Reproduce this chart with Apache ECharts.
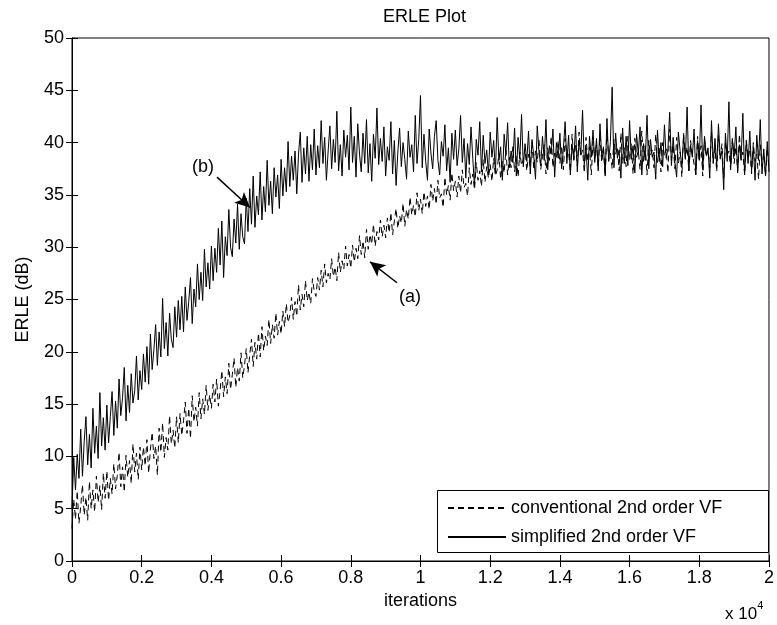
<!DOCTYPE html>
<html>
<head>
<meta charset="utf-8">
<script src="https://cdn.jsdelivr.net/npm/echarts@6/dist/echarts.min.js"></script>
<style>
  html, body { margin: 0; padding: 0; background: #fff; }
  #chart { width: 777px; height: 625px; }
</style>
</head>
<body>
<div id="chart"></div>
<script>
// iterations between samples (x axis is shown in units of 10^4)
const step = 50

const xTicks = ['0', '0.2', '0.4', '0.6', '0.8', '1', '1.2', '1.4', '1.6', '1.8', '2']

// (a) conventional 2nd order VF, dashed  (one row = 1000 iterations)
const conventional = [
  3.1, 5.9, 4.0, 6.7, 3.6, 5.2, 7.3, 4.4, 6.1, 3.9, 7.6, 5.0, 6.8, 4.7, 8.1, 5.6, 7.2, 4.9, 8.4, 6.0,
  8.6, 5.8, 7.9, 6.4, 9.3, 6.9, 8.2, 10.4, 7.1, 9.0, 6.6, 10.1, 8.0, 9.6, 7.4, 11.2, 8.5, 10.3, 7.8, 10.9,
  8.7, 10.9, 9.1, 11.6, 8.4, 10.7, 12.3, 9.8, 11.0, 8.2, 12.7, 10.4, 13.2, 9.9, 11.8, 10.6, 13.9, 11.2, 12.5, 10.8,
  13.8, 11.3, 14.1, 12.0, 13.4, 15.2, 12.2, 14.6, 11.7, 15.8, 13.3, 14.7, 12.9, 16.1, 13.6, 15.5, 14.0, 16.8, 14.4, 15.9,
  14.6, 16.9, 15.2, 17.4, 14.8, 16.3, 18.2, 15.7, 17.6, 16.0, 18.9, 16.4, 17.8, 19.4, 16.6, 18.5, 17.2, 19.9, 17.5, 18.7,
  20.3, 18.0, 19.7, 21.2, 18.6, 20.9, 19.3, 21.8, 19.5, 22.4, 20.1, 21.5, 20.6, 23.1, 20.8, 22.6, 21.3, 23.7, 21.6, 22.9,
  21.7, 23.9, 22.4, 24.6, 22.8, 23.5, 25.2, 23.1, 24.8, 23.4, 26.4, 24.0, 25.5, 24.3, 26.8, 24.9, 25.7, 24.6, 27.0, 25.8,
  25.3, 27.1, 25.9, 27.8, 26.2, 28.4, 26.6, 27.5, 26.9, 28.9, 27.2, 28.1, 26.8, 29.5, 27.6, 28.7, 27.9, 30.1, 28.2, 29.3,
  28.0, 30.2, 28.6, 29.9, 28.9, 31.1, 29.3, 30.6, 29.0, 31.7, 29.8, 31.2, 30.3, 32.2, 30.1, 31.5, 30.7, 32.6, 31.0, 32.1,
  30.9, 32.8, 31.4, 33.3, 31.2, 32.5, 33.7, 31.8, 33.0, 32.3, 34.2, 32.0, 33.6, 32.7, 34.8, 33.1, 34.0, 32.9, 35.2, 33.5,
  34.6, 33.2, 35.3, 33.9, 34.9, 33.6, 36.0, 34.4, 35.6, 34.1, 36.4, 34.7, 35.1, 33.8, 36.7, 35.0, 35.9, 34.5, 37.1, 35.4,
  36.3, 34.8, 36.8, 35.2, 37.4, 35.7, 36.1, 34.9, 37.6, 36.0, 37.0, 35.5, 38.1, 36.4, 37.3, 35.8, 38.4, 36.2, 37.7, 36.6,
  37.9, 36.3, 38.5, 36.8, 37.4, 39.0, 36.5, 38.2, 37.1, 39.3, 36.9, 38.6, 37.6, 39.6, 37.2, 38.8, 36.7, 39.1, 37.8, 38.4,
  39.4, 37.3, 38.9, 37.7, 40.0, 37.5, 39.2, 38.1, 40.3, 37.4, 38.7, 39.8, 37.0, 39.5, 38.3, 40.6, 37.6, 39.0, 38.5, 40.2,
  38.0, 39.7, 37.4, 40.4, 38.6, 39.1, 37.2, 40.8, 38.3, 39.9, 37.8, 41.0, 38.7, 39.3, 37.1, 40.5, 38.2, 39.6, 36.9, 40.1,
  38.5, 39.8, 37.6, 40.7, 38.1, 39.4, 36.8, 41.2, 38.4, 39.0, 37.5, 40.3, 38.9, 39.6, 37.3, 40.9, 38.0, 39.5, 37.7, 40.6,
  38.3, 39.9, 37.0, 40.4, 38.6, 39.2, 37.4, 41.1, 38.2, 39.7, 36.9, 40.2, 38.8, 39.3, 37.6, 40.8, 38.1, 39.5, 37.2, 40.0,
  38.7, 39.4, 37.1, 41.3, 38.4, 39.8, 37.5, 40.5, 38.0, 39.1, 36.7, 40.9, 38.5, 39.6, 37.3, 40.2, 38.9, 39.0, 37.0, 40.6,
  38.2, 39.7, 36.8, 40.3, 38.6, 39.3, 37.6, 41.0, 38.1, 39.5, 37.2, 40.7, 38.4, 39.9, 36.6, 40.1, 38.8, 39.2, 37.4, 40.4,
  38.0, 39.6, 37.3, 40.8, 38.3, 39.1, 36.9, 40.2, 38.5, 39.4, 37.0, 40.0, 38.2, 38.9, 36.5, 39.8, 37.7, 39.0, 36.8, 39.5,
  37.6
]

// (b) simplified 2nd order VF, solid
const simplified = [
  5.0, 9.9, 6.8, 10.2, 7.9, 12.6, 8.1, 11.4, 13.8, 9.2, 12.1, 8.9, 14.6, 10.3, 12.9, 9.8, 16.1, 11.0, 13.7, 10.6,
  14.9, 11.3, 13.8, 16.2, 12.0, 15.3, 12.7, 17.4, 13.9, 15.6, 18.5, 13.4, 16.8, 14.2, 17.9, 15.1, 16.3, 19.6, 15.4, 18.2,
  16.4, 19.8, 17.1, 20.5, 16.9, 21.7, 18.3, 20.2, 22.6, 18.7, 21.9, 19.5, 25.1, 20.3, 22.8, 19.6, 23.7, 21.2, 20.4, 24.3,
  21.4, 24.9, 22.1, 25.3, 21.9, 26.2, 23.0, 24.8, 27.1, 22.7, 26.0, 24.3, 28.4, 25.0, 27.6, 24.9, 29.8, 26.2, 28.5, 26.0,
  30.1, 26.8, 29.9, 27.6, 31.8, 28.3, 32.5, 27.1, 31.0, 29.2, 33.6, 30.0, 29.1, 32.7, 30.4, 34.1, 29.8, 33.2, 31.0, 30.3,
  34.7, 31.5, 35.6, 32.2, 36.8, 31.9, 34.9, 33.1, 37.2, 32.6, 35.8, 33.4, 38.3, 34.0, 36.3, 33.2, 37.6, 34.8, 36.9, 33.7,
  38.4, 34.9, 37.6, 35.3, 40.1, 35.8, 38.7, 36.4, 39.2, 35.1, 38.9, 41.0, 36.2, 39.5, 37.0, 40.6, 36.3, 39.8, 37.4, 41.3,
  36.9, 39.7, 37.6, 42.1, 38.0, 40.5, 36.4, 39.2, 41.6, 37.5, 40.3, 38.1, 43.0, 37.3, 39.8, 36.8, 41.2, 38.6, 40.7, 37.4,
  43.4, 38.1, 40.6, 36.7, 41.8, 38.9, 37.2, 40.9, 38.0, 42.2, 37.1, 39.9, 36.3, 40.8, 38.5, 43.3, 37.9, 40.4, 38.2, 41.5,
  36.8, 39.6, 38.3, 42.0, 37.0, 40.2, 35.9, 39.1, 41.4, 37.7, 40.0, 38.4, 36.5, 41.1, 38.6, 39.8, 37.2, 42.6, 38.0, 40.3,
  44.5, 37.6, 40.8, 38.2, 36.4, 41.3, 39.0, 37.5, 40.6, 42.1, 38.3, 36.9, 40.1, 38.7, 41.7, 37.3, 39.5, 36.2, 40.9, 38.4,
  41.2, 37.8, 39.4, 42.6, 38.1, 40.4, 36.6, 39.9, 37.9, 41.5, 38.5, 35.8, 40.3, 38.8, 42.0, 37.2, 40.7, 38.0, 39.3, 36.9,
  41.0, 38.6, 40.2, 37.1, 42.4, 38.3, 39.6, 36.4, 40.8, 38.9, 41.9, 37.6, 39.2, 38.1, 41.4, 36.8, 40.5, 38.4, 42.7, 37.7,
  39.9, 38.2, 41.1, 37.0, 40.3, 38.7, 36.5, 41.6, 39.1, 37.8, 40.6, 38.3, 42.2, 37.4, 39.7, 38.9, 41.3, 36.7, 40.0, 38.5,
  40.9, 37.5, 39.4, 42.0, 38.0, 40.7, 36.9, 39.8, 38.4, 41.6, 37.2, 40.2, 38.8, 43.1, 37.9, 39.5, 36.4, 40.6, 38.6, 41.2,
  38.1, 40.4, 37.3, 41.8, 38.7, 39.6, 36.8, 42.3, 38.2, 40.1, 45.3, 37.6, 40.9, 38.5, 39.3, 36.6, 41.4, 38.0, 40.6, 37.8,
  42.1, 38.4, 39.7, 37.1, 40.8, 38.9, 41.5, 36.9, 39.9, 38.3, 42.6, 37.5, 40.3, 38.6, 39.1, 36.5, 41.2, 38.2, 40.0, 37.7,
  41.7, 38.5, 39.4, 42.9, 37.8, 40.5, 38.1, 36.7, 41.0, 39.2, 37.6, 40.7, 38.4, 43.4, 37.3, 39.8, 38.6, 41.3, 36.9, 40.2,
  38.3, 43.6, 37.4, 40.6, 38.8, 39.5, 36.6, 42.1, 38.0, 40.4, 37.7, 41.8, 38.5, 39.2, 35.5, 40.9, 38.2, 43.9, 37.6, 40.3,
  38.7, 41.5, 37.1, 39.8, 38.4, 42.8, 36.9, 40.2, 38.0, 41.1, 37.3, 39.6, 36.4, 40.7, 38.3, 42.2, 37.0, 39.4, 36.8, 40.1,
  37.2
]

const font = 'Liberation Sans, Arial, sans-serif'

const chart = echarts.init(document.getElementById('chart'))

const toXY = arr => arr.map((v, i) => [i * step, v])

const option = {
  animation: false,
  backgroundColor: '#fff',
  textStyle: { fontFamily: font, color: '#000' },
  title: {
    text: 'ERLE Plot',
    left: 378,
    top: 3,
    textStyle: { fontFamily: font, fontSize: 18, fontWeight: 'normal', color: '#000' }
  },
  grid: {
    left: 72,
    right: 8,
    top: 38,
    bottom: 64,
    show: true,
    borderColor: '#000',
    borderWidth: 1,
    backgroundColor: '#fff'
  },
  legend: {
    data: ['conventional 2nd order VF', 'simplified 2nd order VF'],
    orient: 'vertical',
    left: 437,
    top: 490,
    padding: [9, 10, 7, 10],
    itemWidth: 58,
    itemHeight: 14,
    itemGap: 11,
    z: 20,
    itemStyle: { opacity: 0, color: 'transparent', borderWidth: 0 },
    textStyle: { fontFamily: font, fontSize: 18, color: '#000', lineHeight: 18 }
  },
  xAxis: [
    {
      type: 'value',
      min: 0,
      max: 20000,
      interval: 2000,
      name: 'iterations',
      nameLocation: 'middle',
      nameGap: 30,
      nameTextStyle: { fontFamily: font, fontSize: 18, color: '#000' },
      axisLine: { lineStyle: { color: '#000' } },
      axisTick: { inside: true, length: 6, lineStyle: { color: '#000' } },
      axisLabel: { fontFamily: font, fontSize: 18, color: '#000', margin: 8, formatter: v => xTicks[v / 2000] },
      splitLine: { show: false }
    },
    {
      type: 'value',
      position: 'top',
      min: 0,
      max: 20000,
      interval: 2000,
      axisLine: { lineStyle: { color: '#000' } },
      axisTick: { inside: true, length: 6, lineStyle: { color: '#000' } },
      axisLabel: { show: false },
      splitLine: { show: false }
    }
  ],
  yAxis: [
    {
      type: 'value',
      min: 0,
      max: 50,
      interval: 5,
      name: 'ERLE (dB)',
      nameLocation: 'middle',
      nameGap: 40,
      nameTextStyle: { fontFamily: font, fontSize: 18, color: '#000' },
      axisLine: { show: true, lineStyle: { color: '#000' } },
      axisTick: { show: true, inside: true, length: 6, lineStyle: { color: '#000' } },
      axisLabel: { fontFamily: font, fontSize: 18, color: '#000', margin: 8 },
      splitLine: { show: false }
    },
    {
      type: 'value',
      position: 'right',
      min: 0,
      max: 50,
      interval: 5,
      axisLine: { show: true, lineStyle: { color: '#000' } },
      axisTick: { show: true, inside: true, length: 6, lineStyle: { color: '#000' } },
      axisLabel: { show: false },
      splitLine: { show: false }
    }
  ],
  series: [
    {
      name: 'conventional 2nd order VF',
      type: 'line',
      data: toXY(conventional),
      symbol: 'none',
      lineStyle: { color: '#000', width: 1, type: [6, 4] },
      itemStyle: { color: '#000' },
      markLine: {
        silent: true,
        symbol: ['none', 'arrow'],
        symbolSize: [11, 15],
        label: { show: false },
        lineStyle: { color: '#000', width: 1.5, type: 'solid' },
        data: [[{ coord: [9326, 26.6] }, { coord: [8551, 28.6] }]]
      },
      markPoint: {
        silent: true,
        symbol: 'circle',
        symbolSize: 1,
        itemStyle: { color: 'rgba(0,0,0,0)' },
        label: { show: true, position: 'inside', formatter: '(a)', fontFamily: font, fontSize: 18, color: '#000' },
        data: [{ coord: [9699, 25.2] }]
      }
    },
    {
      name: 'simplified 2nd order VF',
      type: 'line',
      data: toXY(simplified),
      symbol: 'none',
      lineStyle: { color: '#000', width: 1 },
      itemStyle: { color: '#000' },
      markLine: {
        silent: true,
        symbol: ['none', 'arrow'],
        symbolSize: [11, 15],
        label: { show: false },
        lineStyle: { color: '#000', width: 1.5, type: 'solid' },
        data: [[{ coord: [4161, 36.7] }, { coord: [5108, 33.8] }]]
      },
      markPoint: {
        silent: true,
        symbol: 'circle',
        symbolSize: 1,
        itemStyle: { color: 'rgba(0,0,0,0)' },
        label: { show: true, position: 'inside', formatter: '(b)', fontFamily: font, fontSize: 18, color: '#000' },
        data: [{ coord: [3759, 37.7] }]
      }
    }
  ],
  graphic: [
    {
      type: 'rect',
      z: 10,
      shape: { x: 437.5, y: 490.5, width: 331, height: 62 },
      style: { fill: '#fff', stroke: '#000', lineWidth: 1 }
    },
    {
      type: 'text',
      left: 725,
      top: 600,
      style: {
        text: '{a|x 10}{s|4}',
        rich: {
          a: { fontFamily: font, fontSize: 17, fill: '#000', padding: [6, 0, 0, 0] },
          s: { fontFamily: font, fontSize: 11, fill: '#000', verticalAlign: 'top' }
        }
      }
    }
  ]
}

chart.setOption(option)
</script>
</body>
</html>
